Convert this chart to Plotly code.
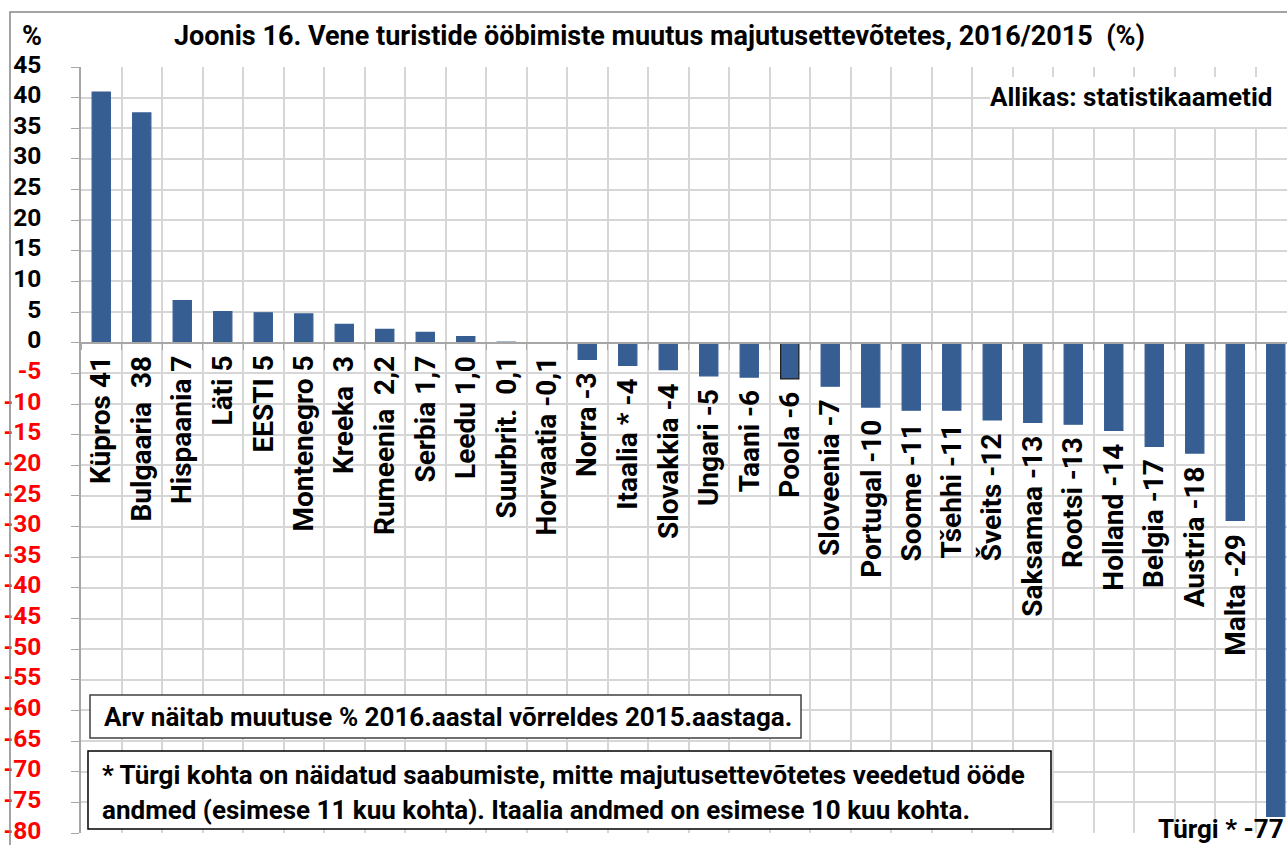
import plotly.graph_objects as go

# ---- data ----
countries = ["Küpros", "Bulgaaria", "Hispaania", "Läti", "EESTI", "Montenegro", "Kreeka",
             "Rumeenia", "Serbia", "Leedu", "Suurbrit.", "Horvaatia", "Norra", "Itaalia *",
             "Slovakkia", "Ungari", "Taani", "Poola", "Sloveenia", "Portugal", "Soome",
             "Tšehhi", "Šveits", "Saksamaa", "Rootsi", "Holland", "Belgia", "Austria",
             "Malta", "Türgi *"]
values = [40.9, 37.5, 6.9, 5.1, 4.9, 4.7, 3.0, 2.2, 1.7, 1.0, 0.1, -0.1, -2.7, -3.7,
          -4.4, -5.4, -5.6, -5.9, -7.1, -10.5, -11.0, -11.0, -12.6, -13.0, -13.3, -14.3,
          -16.9, -18.0, -29.0, -77.3]
value_labels = ["41", " 38", "7", "5", "5", "5", " 3", " 2,2", "1,7", "1,0", " 0,1", "-0,1",
                "-3", "-4", "-4", "-5", "-6", "-6", "-7", "-10", "-11", "-11", "-12", "-13",
                "-13", "-14", "-17", "-18", "-29", "-77"]
y_ticks = list(range(-80, 50, 5))

W, H = 1287, 845
L, R, T, B = 81, 1287, 67, 833
FONT = "Roboto"


def fx(px):
    return (px - L) / (R - L)


def fy(py):
    return (B - py) / (B - T)


cat_labels = [f"{c} {v}" for c, v in zip(countries, value_labels)]

bar_color = "#375E92"
line_colors = [bar_color] * len(values)
line_colors[countries.index("Poola")] = "#1A1A1A"

fig = go.Figure(go.Bar(
    x=cat_labels, y=values,
    marker=dict(color=bar_color, line=dict(color=line_colors, width=1.2)),
    width=0.45,
))

y_text = [f'<span style="color:{"#FF0000" if v < 0 else "#000000"}"><b>{v}</b></span>' for v in y_ticks]

fig.update_layout(
    width=W, height=H,
    margin=dict(l=L, r=W - R, t=T, b=H - B),
    paper_bgcolor="white", plot_bgcolor="white",
    showlegend=False,
    font=dict(family=FONT, color="black"),
    xaxis=dict(
        type="category", range=[-0.5, 29.5 - 9 / 40.5],
        anchor="free", position=fy(343),
        tickson="boundaries", ticks="outside", ticklen=6, tickcolor="#A6A6A6",
        showticklabels=False,
        showgrid=True, gridcolor="#D6D6D6", gridwidth=1.5,
        showline=True, linecolor="#A6A6A6", linewidth=1.5,
        automargin=False,
    ),
    yaxis=dict(
        range=[-80, 45], tickmode="array", tickvals=y_ticks, ticktext=y_text,
        tickfont=dict(size=24.5, family=FONT),
        ticks="outside", ticklen=8, tickcolor="#A6A6A6",
        showgrid=True, gridcolor="#D6D6D6", gridwidth=1.5,
        zeroline=False,
        showline=True, linecolor="#A6A6A6", linewidth=1.5,
        automargin=False, ticklabelstandoff=25, ticklabeloverflow="allow",
        ticklabelshift=-3,
    ),
)

shapes = [
    dict(type="rect", xref="paper", yref="paper", x0=fx(10), x1=fx(1300), y0=fy(860), y1=fy(12),
         line=dict(color="#868686", width=1.5), fillcolor="rgba(0,0,0,0)", layer="above"),
    dict(type="rect", xref="paper", yref="paper", x0=fx(990), x1=fx(1295), y0=fy(127), y1=fy(77),
         line=dict(width=0), fillcolor="white", layer="above"),
    dict(type="rect", xref="paper", yref="paper", x0=fx(90), x1=fx(801), y0=fy(738), y1=fy(695),
         line=dict(color="#404040", width=1.5), fillcolor="white", layer="above"),
    dict(type="rect", xref="paper", yref="paper", x0=fx(88), x1=fx(1051), y0=fy(829), y1=fy(751),
         line=dict(color="#000000", width=1.5), fillcolor="white", layer="above"),
]
fig.update_layout(shapes=shapes)

ann = [
    dict(text="<b>Joonis 16. Vene turistide ööbimiste muutus majutusettevõtetes, 2016/2015  (%)</b>",
         x=fx(659), y=fy(36), xanchor="center", yanchor="middle", font=dict(size=27)),
    dict(text="<b>%</b>", x=fx(20), y=fy(36), xanchor="left", yanchor="middle", font=dict(size=27)),
    dict(text="<b>Allikas: statistikaametid</b>", x=fx(1274), y=fy(97), xanchor="right",
         yanchor="middle", font=dict(size=26)),
    dict(text="<b>Arv näitab muutuse % 2016.aastal võrreldes 2015.aastaga.</b>",
         x=fx(102), y=fy(717), xanchor="left", yanchor="middle", font=dict(size=26)),
    dict(text="<b>* Türgi kohta on näidatud saabumiste, mitte majutusettevõtetes veedetud ööde</b>",
         x=fx(100), y=fy(775), xanchor="left", yanchor="middle", font=dict(size=26)),
    dict(text="<b>andmed (esimese 11 kuu kohta). Itaalia andmed on esimese 10 kuu kohta.</b>",
         x=fx(100), y=fy(810), xanchor="left", yanchor="middle", font=dict(size=26)),
    dict(text=f"<b>{cat_labels[-1]}</b>", x=fx(1286), y=fy(846), xanchor="right",
         yanchor="bottom", font=dict(size=26)),
]
for a in ann:
    a.update(xref="paper", yref="paper", showarrow=False)

# data labels (category + value), rotated, below zero / below bar end
for lab, v in zip(cat_labels[:-1], values[:-1]):
    ann.append(dict(text=f"<b>{lab}</b>", x=lab, y=min(0, v), xref="x", yref="y",
                    xanchor="center", yanchor="top", yshift=-11, textangle=-90,
                    showarrow=False, font=dict(size=28)))
fig.update_layout(annotations=ann)

fig.write_html("out.html", config={"displayModeBar": False},
               post_script="document.body.style.margin='0';")
